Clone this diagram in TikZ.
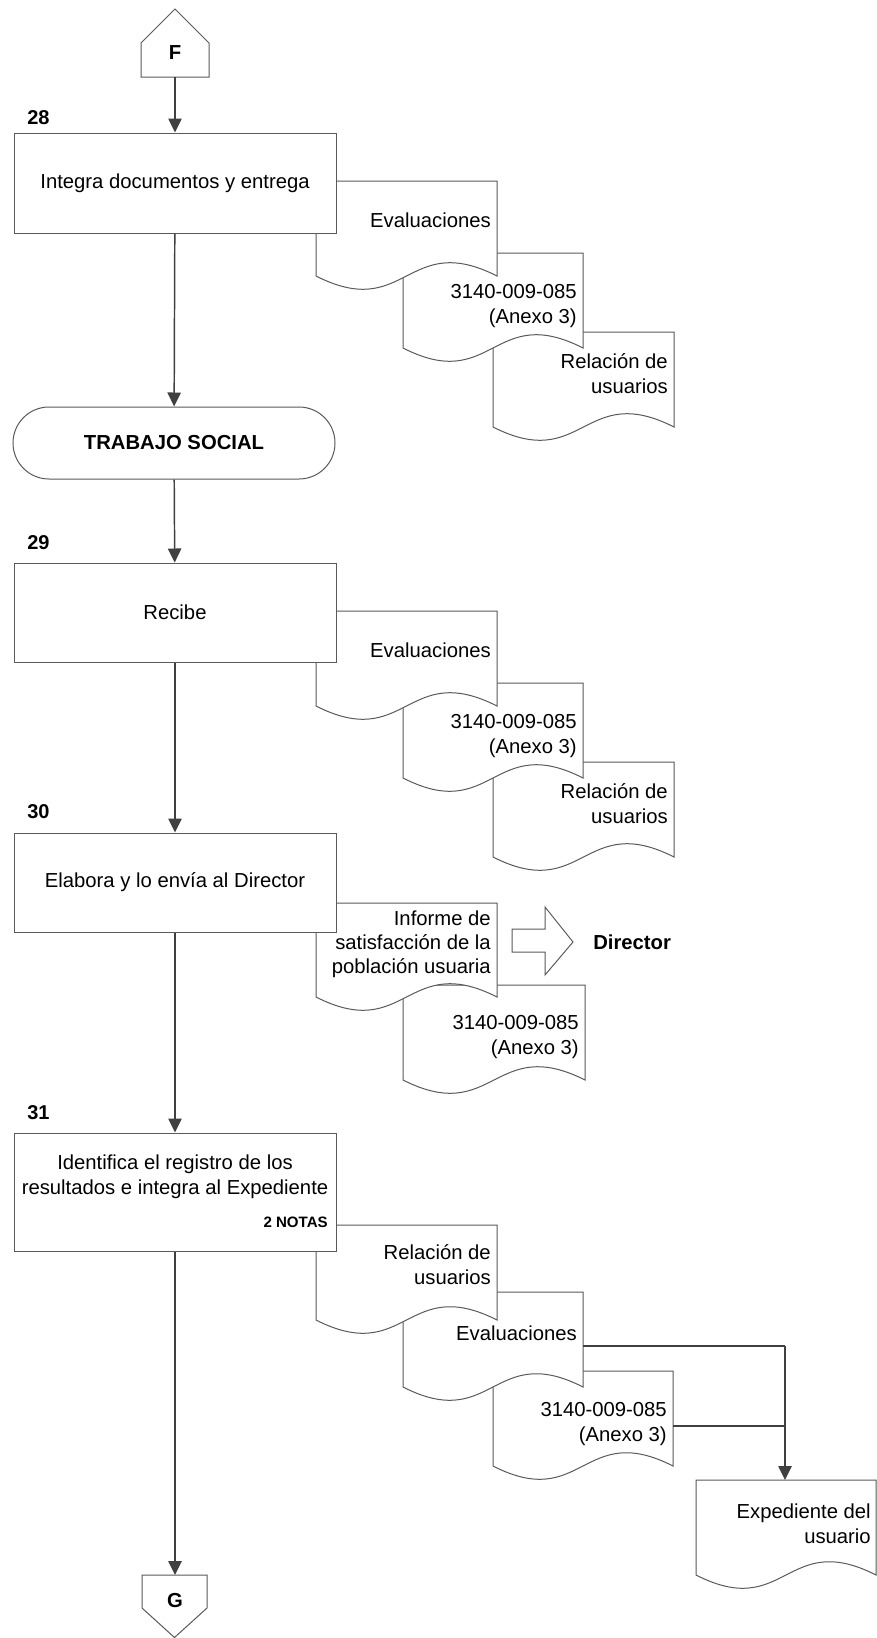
\documentclass[tikz,border=0pt]{standalone}
\usepackage{fontspec}
\setmainfont{Liberation Sans}
\usetikzlibrary{arrows.meta}
\definecolor{shapegray}{HTML}{5A5A5A}
\definecolor{flowgray}{HTML}{404040}
\newcommand{\mainfs}{\fontsize{15.2pt}{18.75pt}\selectfont}
\newcommand{\numfs}{\fontsize{15pt}{17pt}\selectfont}
\newcommand{\docshp}[4]{%
  \filldraw[docline] (#1,#2) -- (#3,#2) -- (#3,#4)
    .. controls ({(#1+#3)/2},{#4-46}) and ({(#1+#3)/2},{#4+46}) .. (#1,#4) -- cycle;}
\tikzset{
  boxst/.style={draw=shapegray, line width=0.75pt, fill=white, minimum width=241.5pt,
    inner sep=0pt, font=\mainfs, align=center},
  termst/.style={boxst, rounded corners=27pt, minimum height=54pt, font=\mainfs\bfseries},
  flow/.style={draw=flowgray, line width=1.1pt, -{Triangle[length=10.5pt,width=10pt]}},
  flowplain/.style={draw=flowgray, line width=1.1pt},
  doctext/.style={anchor=east, align=right, font=\mainfs, inner sep=0pt},
  numlab/.style={anchor=west, font=\numfs\bfseries, inner sep=0pt},
  docline/.style={draw=shapegray, line width=0.75pt, fill=white},
  conn/.style={draw=shapegray, line width=0.75pt, fill=white},
}
\begin{document}
\begin{tikzpicture}[x=0.75pt, y=-0.75pt]
\fill[white] (0,0) rectangle (877,1638);
\useasboundingbox (0,0) rectangle (877,1638);

% ---------- F connector ----------
\filldraw[conn] (175,9) -- (209,43) -- (209,77) -- (141,77) -- (141,43) -- cycle;
\node[font=\mainfs\bfseries, inner sep=0pt] (F) at (175,53) {F};
\coordinate (Fbot) at (175,77);

% ---------- Group 28 ----------
\docshp{493}{332}{674}{427}
\node[doctext] (d28c) at (668,374) {Relación de\\usuarios};
\docshp{403}{253}{583}{348}
\node[doctext] (d28b) at (577,306) {3140-009-085\\(Anexo 3)};
\docshp{316}{181}{497}{276}
\node[doctext] (d28a) at (491,220) {Evaluaciones};
\node[boxst, minimum height=75pt] (b28) at (175,183) {Integra documentos y entrega};
\node[numlab] (n28) at (27,118) {28};

% ---------- Terminal ----------
\node[termst] (ts) at (174,443) {TRABAJO SOCIAL};

% ---------- Group 29 ----------
\docshp{493}{762}{674}{857}
\node[doctext] (d29c) at (668,804) {Relación de\\usuarios};
\docshp{403}{683}{583}{778}
\node[doctext] (d29b) at (577,736) {3140-009-085\\(Anexo 3)};
\docshp{316}{611}{497}{706}
\node[doctext] (d29a) at (491,650) {Evaluaciones};
\node[boxst, minimum height=74.25pt] (b29) at (175,612.5) {Recibe};
\node[numlab] (n29) at (27,543) {29};

% ---------- Group 30 ----------
\docshp{403}{985}{585}{1080}
\node[doctext] (d30b) at (579,1037) {3140-009-085\\(Anexo 3)};
\docshp{316}{903}{497}{997}
\node[doctext, font=\fontsize{15.2pt}{18pt}\selectfont] (d30a) at (491,944) {Informe de\\satisfacción de la\\población usuaria};
\node[boxst, minimum height=74.25pt] (b30) at (175,882.5) {Elabora y lo envía al Director};
\node[numlab] (n30) at (27,812) {30};
% block arrow to Director
\filldraw[conn] (512,929) -- (545,929) -- (545,907) -- (573,942) -- (545,975) -- (545,952) -- (512,952) -- cycle;
\node[font=\mainfs\bfseries, anchor=west, inner sep=0pt] (dir) at (593,942) {Director};

% ---------- Group 31 ----------
\docshp{493}{1371}{673}{1466}
\node[doctext] (d31c) at (667,1424) {3140-009-085\\(Anexo 3)};
\docshp{403}{1292}{583}{1387}
\node[doctext] (d31b) at (577,1333) {Evaluaciones};
\docshp{316}{1225}{497}{1320}
\node[doctext] (d31a) at (491,1265) {Relación de\\usuarios};
\node[boxst, minimum height=88.5pt] (b31) at (175,1192) {};
\node[font=\mainfs, align=center, inner sep=0pt] (t31) at (175,1176.5) {Identifica el registro de los\\resultados e integra al Expediente};
\node[font=\fontsize{11.3pt}{13pt}\selectfont\bfseries, anchor=east, inner sep=0pt] (notas) at (328,1222) {2 NOTAS};
\node[numlab] (n31) at (27,1113) {31};

% Expediente
\docshp{696}{1480}{876}{1575}
\node[doctext] (exp) at (871,1524) {Expediente del\\usuario};
\coordinate (e2) at (583,1346);
\coordinate (e3) at (673,1426);
\coordinate (j2) at (785,1346);
\coordinate (j3) at (785,1426);
\coordinate (expTop) at (785,1480);
\draw[flowplain] (e2) -- (j2);
\draw[flowplain] (e3) -- (j3);
\draw[flow] (j2) -- (expTop);

% ---------- G connector ----------
\filldraw[conn] (142,1575) -- (207,1575) -- (207,1608) -- (174.5,1637.5) -- (142,1608) -- cycle;
\node[font=\mainfs\bfseries, inner sep=0pt] (G) at (175,1601) {G};
\coordinate (Gtop) at (175,1575);

% ---------- main flow ----------
\draw[flow] (Fbot) -- (b28);
\draw[flow] (b28) -- (ts);
\draw[flow] (ts) -- (b29);
\draw[flow] (b29) -- (b30);
\draw[flow] (b30) -- (b31);
\draw[flow] (b31.south) -- (Gtop);
\end{tikzpicture}
\end{document}
